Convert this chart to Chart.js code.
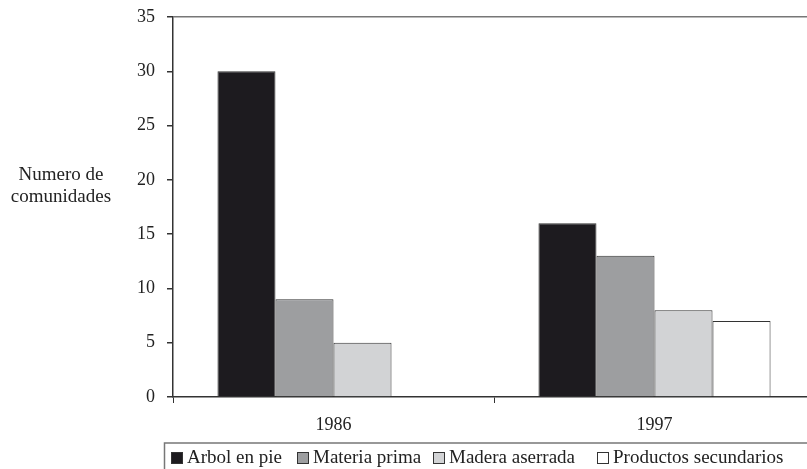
<!DOCTYPE html>
<html lang="es">
<head>
<meta charset="UTF-8">
<title>Numero de comunidades</title>
<script src="https://cdn.jsdelivr.net/npm/chart.js"></script>
<style>
    html, body { margin: 0; padding: 0; background: #fff; overflow: hidden; }
    .wrap { position: relative; width: 822px; height: 469px; }
</style>
</head>
<body>
<div class="wrap"><canvas id="chart"></canvas></div>
<script>
    const years = ["1986", "1997"];
    const seriesNames = ["Arbol en pie", "Materia prima", "Madera aserrada", "Productos secundarios"];
    const arbolEnPie = [30, 16];
    const materiaPrima = [9, 13];
    const maderaAserrada = [5, 8];
    const productosSecundarios = [0, 7];
    const seriesColors = ["#1d1b1f", "#9d9ea0", "#d2d3d5", "#ffffff"];
    const yTitle = ["Numero de", "comunidades"];

    const FONT = "'Liberation Serif', 'DejaVu Serif', serif";

    // etiqueta del eje y (horizontal) y leyenda con marco
    const extras = {
        id: "extras",
        afterDraw(chart) {
            const ctx = chart.ctx;
            ctx.save();
            ctx.font = "19px " + FONT;
            ctx.fillStyle = "#222";
            ctx.textAlign = "center";
            ctx.textBaseline = "alphabetic";
            yTitle.forEach((t, i) => ctx.fillText(t, 61, 180 + i * 22));

            // marco de la leyenda
            ctx.strokeStyle = "#777";
            ctx.lineWidth = 1.5;
            ctx.beginPath();
            ctx.moveTo(164.5, 470);
            ctx.lineTo(164.5, 443);
            ctx.lineTo(chart.width, 443);
            ctx.stroke();

            const starts = [171, 297, 433, 597];
            ctx.textAlign = "left";
            chart.data.datasets.forEach((ds, i) => {
                const x = starts[i];
                ctx.fillStyle = ds.backgroundColor;
                ctx.fillRect(x, 452, 12, 12);
                ctx.strokeStyle = "#333";
                ctx.lineWidth = 1;
                ctx.strokeRect(x + 0.5, 452.5, 11, 11);
                ctx.fillStyle = "#222";
                ctx.fillText(ds.label, x + 16, 463);
            });
            ctx.restore();
        }
    };

    const values = [arbolEnPie, materiaPrima, maderaAserrada, productosSecundarios];

    new Chart(document.getElementById("chart"), {
        type: "bar",
        data: {
            labels: years,
            datasets: seriesNames.map((name, i) => ({
                label: name,
                data: values[i],
                backgroundColor: seriesColors[i],
                borderColor: "#333",
                borderWidth: 1,
                categoryPercentage: 0.723,
                barPercentage: 1
            }))
        },
        options: {
            responsive: true,
            maintainAspectRatio: false,
            animation: false,
            layout: { padding: { top: 17, right: 7, left: 0, bottom: 0 } },
            plugins: {
                legend: { display: false },
                tooltip: { enabled: false }
            },
            scales: {
                x: {
                    afterFit(scale) { scale.height = 72; },
                    border: { color: "#333", width: 1.5 },
                    grid: {
                        offset: true,
                        drawOnChartArea: false,
                        tickLength: 6,
                        tickColor: "#333"
                    },
                    ticks: {
                        color: "#222",
                        padding: 11,
                        font: { family: FONT, size: 18 }
                    }
                },
                y: {
                    min: 0,
                    max: 35,
                    afterFit(scale) {
                        scale.width = 173;
                        scale.paddingTop = 0;
                        scale.paddingBottom = 0;
                    },
                    border: { color: "#333", width: 1.5 },
                    grid: {
                        color: c => c.tick && c.tick.value === 35 ? "#777" : "rgba(0,0,0,0)",
                        lineWidth: 1.5,
                        tickLength: 6,
                        tickColor: "#333"
                    },
                    ticks: {
                        stepSize: 5,
                        color: "#222",
                        padding: 12,
                        font: { family: FONT, size: 18 }
                    }
                }
            }
        },
        plugins: [extras]
    });
</script>
</body>
</html>
